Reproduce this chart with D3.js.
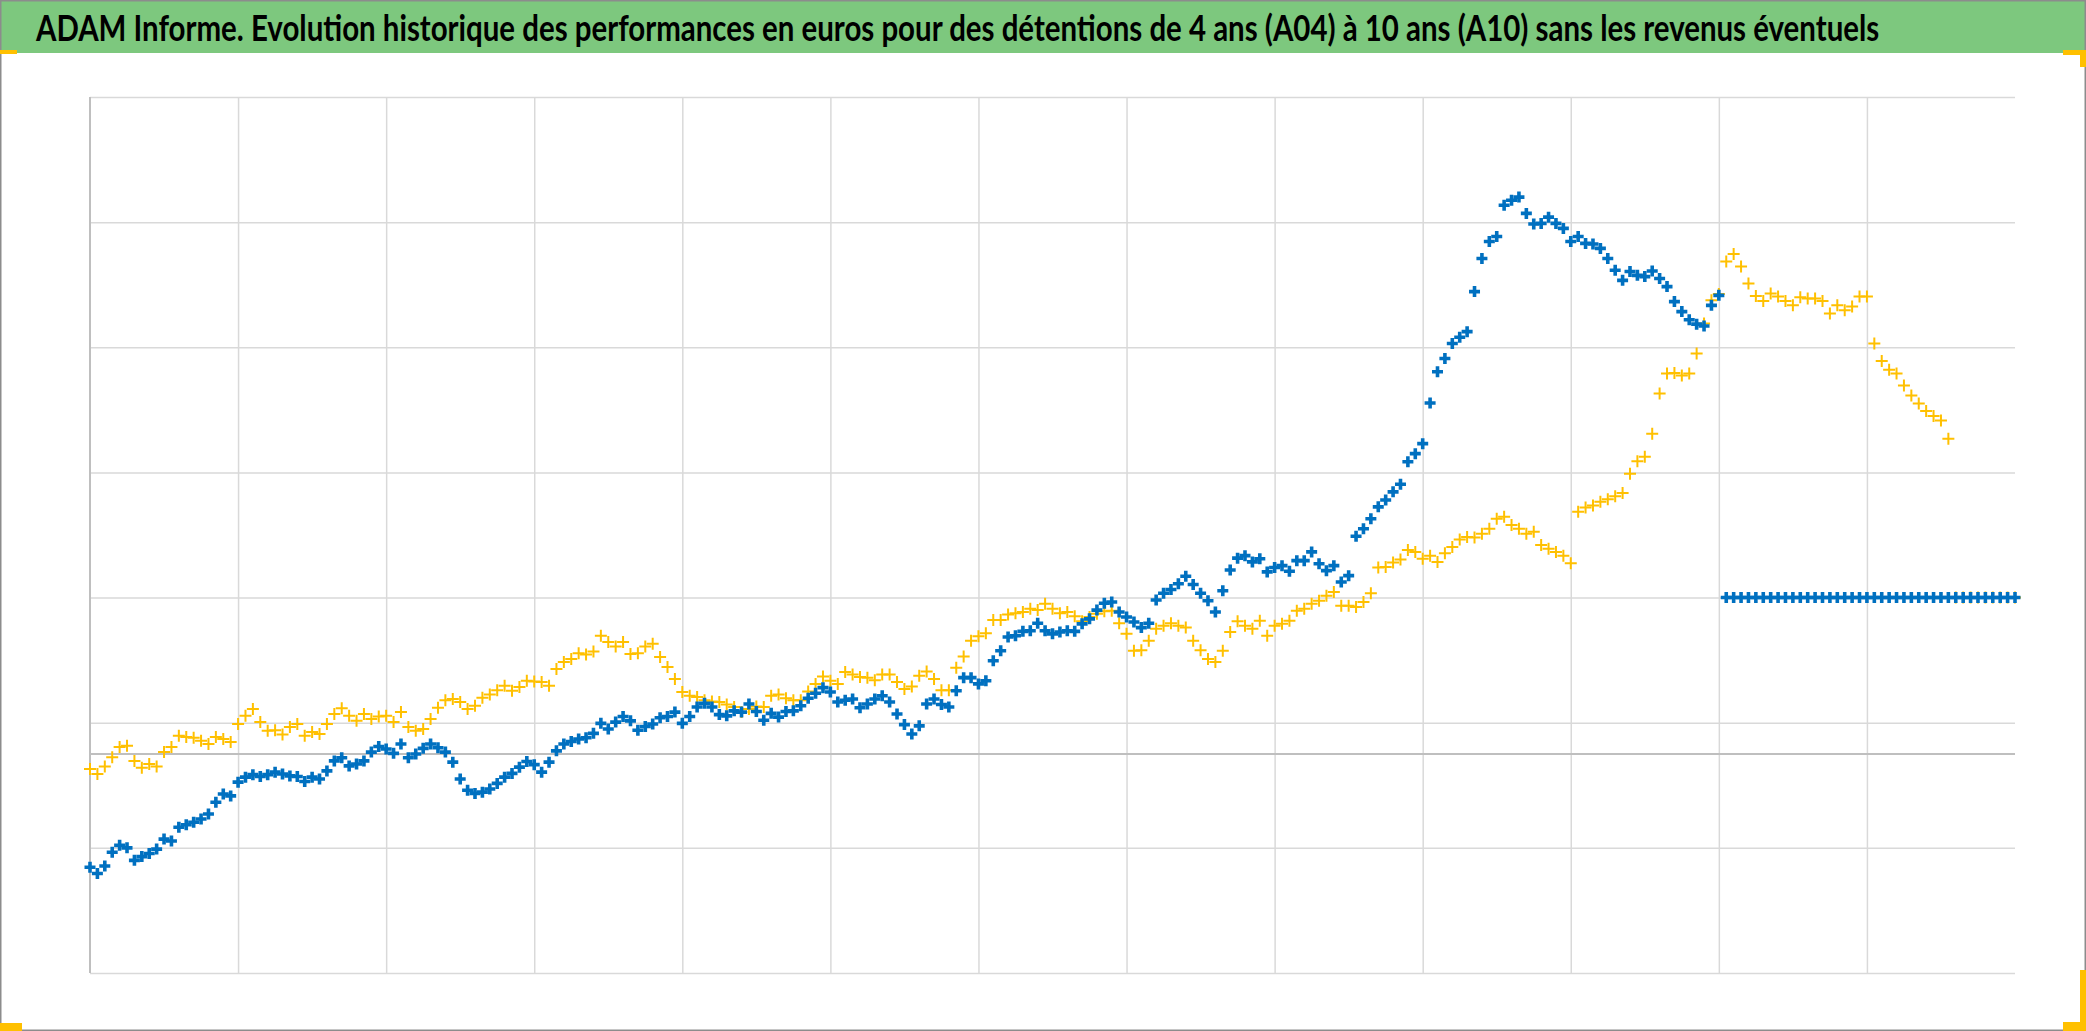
<!DOCTYPE html>
<html><head><meta charset="utf-8">
<script src="https://cdn.jsdelivr.net/npm/d3@7"></script>
<style>html,body{margin:0;padding:0;background:#fff;overflow:hidden;} svg{display:block;}</style>
</head><body>
<svg id="chart" width="2086" height="1031"></svg>
<script>
const titleText = "ADAM Informe. Evolution historique des performances en euros pour des détentions de 4 ans (A04) à 10 ans (A10) sans les revenus éventuels";
const yTicks = [-35, -15, 5, 25, 45, 65, 85, 105];
const yBaseline = 0;
const xTicks = [0, 20, 40, 60, 80, 100, 120, 140, 160, 180, 200, 220, 240];
const xMax = 260;
const seriesNames = ["A10", "A04"];

const seriesA10 = [
-18.1,-19.1,-17.9,-15.7,-14.6,-15.0,-17.0,-16.4,-15.9,-15.2,-13.6,-13.9,-11.7,-11.3,-10.9,-10.4,-9.6,-7.7,-6.4,-6.7,
-4.5,-3.7,-3.3,-3.6,-3.3,-2.9,-3.2,-3.5,-3.6,-4.4,-3.7,-4.0,-2.7,-1.1,-0.6,-1.9,-1.6,-1.1,0.3,1.2,
0.8,0.1,1.6,-0.6,0.0,0.9,1.6,1.0,0.3,-1.3,-4.0,-5.8,-6.3,-6.1,-5.6,-4.7,-3.7,-3.1,-2.1,-1.2,
-1.7,-2.9,-1.3,0.5,1.6,2.0,2.4,2.6,3.3,4.9,4.0,5.1,6.0,5.3,3.8,4.4,4.8,5.8,6.0,6.7,
4.9,6.0,7.5,8.1,7.5,6.3,6.1,6.9,6.7,8.0,6.8,5.4,6.5,5.9,6.8,6.9,7.7,8.9,9.7,10.6,
9.9,8.3,8.6,8.8,7.4,8.0,8.8,9.3,8.3,6.4,4.7,3.2,4.5,8.0,8.8,7.9,7.5,10.1,12.2,12.2,
11.2,11.7,14.9,16.5,18.7,18.9,19.6,19.7,20.9,19.7,19.2,19.5,19.7,19.6,20.8,21.6,23.0,24.1,24.3,22.7,
21.9,21.1,20.2,20.9,24.6,25.7,26.3,27.2,28.4,27.1,25.7,24.5,22.7,26.1,29.4,31.3,31.7,30.7,31.2,29.1,
29.8,30.1,29.2,30.9,30.9,32.3,30.4,29.3,30.1,27.5,28.5,34.8,36.0,37.6,39.5,40.6,41.9,43.1,46.7,48.0,
49.6,56.1,61.1,63.2,65.6,66.6,67.5,73.9,79.2,81.9,82.7,87.7,88.5,89.0,86.4,84.7,84.8,85.8,84.8,84.0,
81.9,82.7,81.6,81.5,80.8,79.2,77.3,75.7,77.1,76.5,76.3,77.2,76.0,74.7,72.3,70.7,69.4,68.7,68.4,71.7,
73.3,25,25,25,25,25,25,25,25,25,25,25,25,25,25,25,25,25,25,25,
25,25,25,25,25,25,25,25,25,25,25,25,25,25,25,25,25,25,25,25,
25
];

const seriesA04 = [
-2.4,-3.2,-2.0,-0.5,1.1,1.3,-1.1,-2.2,-1.6,-2.0,0.3,1.1,2.9,2.7,2.6,2.1,1.6,2.7,2.4,1.9,
4.8,6.1,7.2,5.1,3.7,3.8,3.1,4.3,4.8,2.9,3.5,3.2,4.8,6.4,7.3,6.1,5.3,6.4,5.6,6.0,
6.1,5.1,6.7,4.3,3.7,4.0,5.6,7.4,8.6,8.8,8.3,7.2,7.7,9.0,9.5,10.2,10.9,10.1,10.7,11.7,
11.6,11.5,10.9,13.6,14.7,15.2,16.1,15.9,16.4,18.9,17.9,17.2,17.9,16.0,16.1,17.2,17.6,15.5,13.9,12.0,
9.9,9.3,9.1,8.6,8.4,8.3,7.9,7.5,6.7,7.2,7.6,7.5,9.3,9.5,8.9,8.6,8.6,10.0,11.2,12.4,
11.7,11.2,13.1,12.7,12.3,12.2,11.8,12.7,12.7,11.5,10.4,10.8,12.5,13.2,12.0,10.2,10.2,13.8,15.6,18.1,
18.8,19.3,21.4,21.4,22.3,22.5,22.7,23.2,23.0,24.0,23.2,22.5,22.7,22.0,21.2,21.9,22.4,22.8,22.9,20.9,
19.2,16.5,16.6,18.1,20.0,20.5,20.9,20.5,20.2,18.1,16.6,15.2,14.7,16.5,19.5,21.2,20.5,20.0,21.3,18.9,
20.5,20.8,21.3,22.9,23.2,24.0,24.5,25.3,25.9,23.7,23.7,23.5,24.3,25.7,29.8,29.9,30.6,31.1,32.6,32.3,
31.2,31.7,30.7,32.1,33.1,34.3,34.7,34.6,35.2,36.0,37.6,37.9,36.6,36.0,35.2,35.5,33.4,32.8,32.3,31.7,
30.5,38.7,39.4,39.7,40.3,40.7,41.2,41.7,44.8,46.8,47.5,51.2,57.6,60.8,60.9,60.5,60.8,64.0,68.8,72.5,
73.5,78.7,79.9,77.9,75.2,73.2,72.4,73.6,73.1,72.4,71.7,73.0,72.8,72.8,72.4,70.4,71.7,70.9,71.5,73.1,
73.1,65.6,62.8,61.4,60.8,58.9,57.3,56.0,54.8,54.0,53.3,50.4,25,25,25,25,25,25,25,25,
25
];

const W = 2086, H = 1031;
const plot = {left: 90, right: 2015, top: 97, bottom: 973};
const svg = d3.select("#chart");

svg.append("rect").attr("x", 0).attr("y", 0).attr("width", W).attr("height", H).attr("fill", "#ffffff");

// title bar
svg.append("rect").attr("x", 0).attr("y", 0).attr("width", W).attr("height", 53).attr("fill", "#7dc87e");
const title = svg.append("text")
  .attr("x", 0).attr("y", 0)
  .attr("font-family", "Lato, 'Open Sans', 'DejaVu Sans', sans-serif")
  .attr("font-weight", "bold")
  .attr("font-size", 37)
  .attr("fill", "#000")
  .text(titleText);
const natural = title.node().getComputedTextLength();
const sx = Math.min(1, 1844 / natural);
title.attr("transform", `translate(36,41) scale(${sx},1)`);

const x = d3.scaleLinear().domain([0, xMax]).range([plot.left, plot.right]);
const y = d3.scaleLinear().domain([yTicks[0], yTicks[yTicks.length - 1]]).range([plot.bottom, plot.top]);

// horizontal gridlines
svg.append("g").attr("transform", `translate(${plot.left},0)`)
  .call(d3.axisLeft(y).tickValues(yTicks).tickSize(-(plot.right - plot.left)).tickFormat(""))
  .call(g => g.select(".domain").remove())
  .call(g => g.selectAll(".tick line").attr("stroke", "#d9d9d9").attr("stroke-width", 1.5));

// vertical gridlines
svg.append("g").attr("transform", `translate(0,${plot.bottom})`)
  .call(d3.axisBottom(x).tickValues(xTicks.slice(1)).tickSize(-(plot.bottom - plot.top)).tickFormat(""))
  .call(g => g.select(".domain").remove())
  .call(g => g.selectAll(".tick line").attr("stroke", "#d9d9d9").attr("stroke-width", 1.5));

// left axis line
svg.append("line").attr("x1", x(xTicks[0])).attr("x2", x(xTicks[0]))
  .attr("y1", plot.top).attr("y2", plot.bottom).attr("stroke", "#bfbfbf").attr("stroke-width", 2);
// baseline (zero)
svg.append("line").attr("x1", plot.left).attr("x2", plot.right)
  .attr("y1", y(yBaseline)).attr("y2", y(yBaseline)).attr("stroke", "#bfbfbf").attr("stroke-width", 2);

function drawSeries(values, color, half, sw) {
  svg.append("g").selectAll("path").data(values).join("path")
    .attr("transform", (d, i) => `translate(${x(i)},${y(d)})`)
    .attr("d", `M${-half},0H${half}M0,${-half}V${half}`)
    .attr("stroke", color).attr("stroke-width", sw).attr("fill", "none");
}
drawSeries(seriesA04, "#ffc000", 6, 2);
drawSeries(seriesA10, "#0070c0", 5.5, 3.6);

// chart border
svg.append("rect").attr("x", 0.75).attr("y", 0.75).attr("width", W - 1.5).attr("height", H - 1.5)
  .attr("fill", "none").attr("stroke", "#8c8c8c").attr("stroke-width", 1.5);

// corner handles (yellow)
const corners = [
  [0, 50, 17, 4], [2063, 50, 23, 5], [2080, 50, 6, 17],
  [0, 1023, 22, 8], [2063, 1022, 23, 9], [2080, 970, 6, 61]
];
svg.append("g").selectAll("rect").data(corners).join("rect")
  .attr("x", d => d[0]).attr("y", d => d[1]).attr("width", d => d[2]).attr("height", d => d[3])
  .attr("fill", "#ffc000");
</script>
</body></html>
